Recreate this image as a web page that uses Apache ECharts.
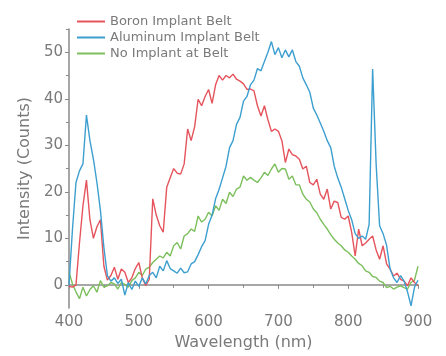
<!DOCTYPE html>
<html>
<head>
<meta charset="utf-8">
<script src="https://cdn.jsdelivr.net/npm/echarts@6/dist/echarts.min.js"></script>
<style>
  html, body { margin: 0; padding: 0; background: #fff; }
  #chart { width: 446px; height: 356px; }
</style>
</head>
<body>
<div id="chart"></div>
<script>
// wavelength grid, 5 nm steps
const wavelengths = [
  400, 405, 410, 415, 420, 425, 430, 435, 440, 445,
  450, 455, 460, 465, 470, 475, 480, 485, 490, 495,
  500, 505, 510, 515, 520, 525, 530, 535, 540, 545,
  550, 555, 560, 565, 570, 575, 580, 585, 590, 595,
  600, 605, 610, 615, 620, 625, 630, 635, 640, 645,
  650, 655, 660, 665, 670, 675, 680, 685, 690, 695,
  700, 705, 710, 715, 720, 725, 730, 735, 740, 745,
  750, 755, 760, 765, 770, 775, 780, 785, 790, 795,
  800, 805, 810, 815, 820, 825, 830, 835, 840, 845,
  850, 855, 860, 865, 870, 875, 880, 885, 890, 895,
  900
];

const boron = [
  -0.3, -0.5, 0, 9, 17, 22.5, 14, 10, 12.5, 14,
  4, 1, 2, 3.8, 1.2, 3.4, 2.7, 0.5, 1.5, 3.5,
  4.8, 1.5, -0.2, 1.2, 18.5, 15, 12.7, 11.3, 21, 23,
  25, 24, 23.8, 26, 33.5, 31, 34, 39.9, 38.5, 40.5,
  42, 39, 43, 45, 44, 45, 44.5, 45.3, 44.2, 43.8,
  43.2, 42, 42.1, 41.7, 38.5, 36.3, 38.5, 35.5, 33, 33.5,
  33, 31, 26.3, 29.2, 28, 27.7, 27, 24.9, 25.5, 22,
  21.5, 22.7, 19.5, 18.4, 20.6, 16.3, 18, 17.7, 14.5, 14.1,
  14.8, 11.3, 6.2, 12, 8.4, 9, 9.8, 10.5, 7.5, 5.5,
  8.4, 4.5, 3.4, 1.9, 2.5, 1.2, 0.8, -0.2, 1.5, 0.5,
  -0.2
];

const aluminum = [
  0, 12, 22, 24.5, 26, 36.5, 31, 27, 22, 16,
  8, 2, 0.8, 1.5, 0.3, 1.2, -2.2, 0.5, -1, 0.8,
  -0.3, 1.5, 0.2, 2, 2.7, 1.5, 4, 3, 5.2, 3.5,
  3, 2.5, 3.6, 2.6, 2.8, 4.5, 5, 6.5, 8.2, 9.5,
  13, 15, 18.5, 20.5, 23, 25.5, 29.5, 31, 34.5, 36,
  39.5, 40.5, 43, 44, 46.5, 46, 48, 50, 52.3, 49.5,
  51, 48.8, 50.5, 49, 50.5, 48, 47, 44.5, 43, 41.4,
  38, 36.5, 34.8, 33, 31, 29.5, 25.5, 23, 21, 18.5,
  16, 14, 11, 10, 10.5, 9.8, 13, 46.4, 26, 12.7,
  11, 8.5, 3.4, 1.5, 0.5, 2, 0.8, -1.5, -4.5, -0.5,
  1
];

const noImplant = [
  2.7, 0.2, -1.5, -3, -0.5, -2.4, -1, -0.2, -1.6, 0.9,
  -0.5, -0.2, 0.5, 0.2, -0.9, 0.5, 0.1, -0.5, 0.9, 1.5,
  2.7, 2, 3.4, 3.8, 4.8, 5.5, 6.2, 5.8, 7, 6.2,
  8.4, 9.1, 7.7, 10.5, 11, 12, 11.5, 14.8, 13.5, 14.1,
  15.6, 14.8, 17, 16, 18.4, 17.5, 19.9, 19, 20.6, 21,
  23.4, 22.5, 23.1, 22.5, 22, 23, 24.2, 23.5, 24.9, 26,
  24.2, 25, 24.9, 22.7, 23.4, 21.5, 21.5, 19.5, 18.4, 17.8,
  16.3, 15.5, 14.1, 13, 12, 10.8, 9.8, 9, 8.4, 7.5,
  7, 6.2, 5.5, 4.6, 4.1, 3, 2.7, 1.8, 1.6, 0.8,
  0.5, -0.6, -0.3, -0.9, -0.5, -0.2, -0.6, -0.9, 0.5, 1,
  4
];

const yMajorTicks = [0, 10, 20, 30, 40, 50];
const yMinorTicks = [5, 15, 25, 35, 45, 55];

const axisGray = '#8a8a8a';
const labelGray = '#7a7a7a';
const font = 'DejaVu Sans';

const pair = (ys) => wavelengths.map((x, i) => [x, ys[i]]);

const chart = echarts.init(document.getElementById('chart'));
chart.setOption({
  animation: false,
  grid: { left: 69, right: 28, top: 29, bottom: 47 },
  legend: {
    orient: 'vertical',
    left: 72,
    top: 10,
    itemWidth: 28,
    itemHeight: 2,
    itemGap: 3,
    icon: 'rect',
    textStyle: { color: labelGray, fontSize: 13, fontFamily: font }
  },
  xAxis: {
    type: 'value',
    min: 400,
    max: 900,
    interval: 100,
    name: 'Wavelength (nm)',
    nameLocation: 'middle',
    nameGap: 26,
    nameTextStyle: { color: labelGray, fontSize: 16, fontFamily: font },
    axisLine: { lineStyle: { color: axisGray, width: 1.5 } },
    axisTick: { length: 4, lineStyle: { color: axisGray } },
    minorTick: { show: true, splitNumber: 2, length: 3, lineStyle: { color: axisGray } },
    axisLabel: { color: labelGray, fontSize: 15, fontFamily: font, margin: 7 },
    splitLine: { show: false }
  },
  yAxis: [{
    type: 'value',
    min: -5,
    max: 55,
    name: 'Intensity (Counts)',
    nameLocation: 'middle',
    nameGap: 35,
    nameTextStyle: { color: labelGray, fontSize: 16, fontFamily: font },
    axisLine: { show: true, lineStyle: { color: axisGray, width: 1.5 } },
    axisTick: { show: true, length: 4, customValues: yMajorTicks, lineStyle: { color: axisGray } },
    axisLabel: { customValues: yMajorTicks, color: labelGray, fontSize: 15, fontFamily: font, margin: 6 },
    splitLine: { show: false }
  }, {
    type: 'value',
    position: 'left',
    min: -5,
    max: 55,
    axisLine: { show: false },
    axisTick: { show: true, length: 3, customValues: yMinorTicks, lineStyle: { color: axisGray } },
    axisLabel: { show: false },
    splitLine: { show: false }
  }],
  series: [
    {
      name: 'Boron Implant Belt',
      type: 'line',
      data: pair(boron),
      showSymbol: false,
      color: '#e5545c',
      lineStyle: { width: 1.4 },
      z: 3
    },
    {
      name: 'Aluminum Implant Belt',
      type: 'line',
      data: pair(aluminum),
      showSymbol: false,
      color: '#3d9fcf',
      lineStyle: { width: 1.4 },
      z: 4
    },
    {
      name: 'No Implant at Belt',
      type: 'line',
      data: pair(noImplant),
      showSymbol: false,
      color: '#7cbf5c',
      lineStyle: { width: 1.4 },
      z: 2
    }
  ]
});
</script>
</body>
</html>
